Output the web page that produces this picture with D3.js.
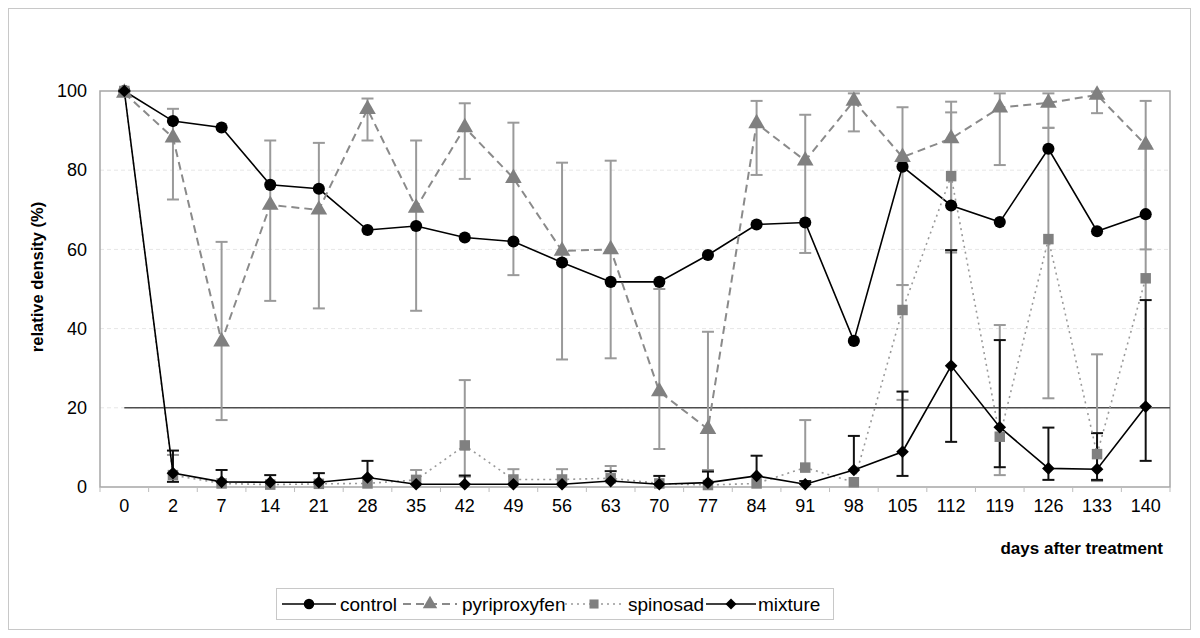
<!DOCTYPE html>
<html><head><meta charset="utf-8">
<script src="https://cdn.jsdelivr.net/npm/d3@7"></script>
<style>html,body{margin:0;padding:0;background:#fff;}svg{display:block;font-family:"Liberation Sans",Arial,sans-serif;}</style>
</head><body>
<svg id="chart" width="1200" height="638"></svg>
<script>
const days = ["0","2","7","14","21","28","35","42","49","56","63","70","77","84","91","98","105","112","119","126","133","140"];
const yTicks = [0, 20, 40, 60, 80, 100];
const threshold = 20;

const control = [100, 92.4, 90.8, 76.3, 75.3, 64.9, 65.9, 63.0, 62.0, 56.7, 51.8, 51.8, 58.6, 66.3, 66.8, 36.9, 80.9, 71.1, 66.9, 85.4, 64.6, 68.9];

const pyriproxyfen = [99.5, 88.2, 36.7, 71.2, 70.0, 95.4, 70.5, 90.8, 78.0, 59.6, 60.0, 24.1, 14.6, 91.8, 82.4, 97.5, 83.3, 88.0, 95.8, 97.0, 99.0, 86.4];
const pyriproxyfenHi = [null, 95.5, 61.9, 87.5, 86.9, 98.1, 87.5, 96.9, 92.0, 81.9, 82.4, 50.0, 39.2, 97.5, 94.0, 99.4, 95.9, 97.3, 99.4, 99.4, 99.8, 97.5];
const pyriproxyfenLo = [null, 72.6, 16.9, 47.0, 45.1, 87.5, 44.5, 77.8, 53.5, 32.2, 32.5, 9.6, 4.3, 78.8, 59.1, 89.8, 51.0, 59.2, 81.3, 90.7, 94.4, 60.0];

const spinosad = [100, 3.0, 0.9, 0.6, 0.8, 0.9, 1.8, 10.5, 1.9, 1.9, 2.2, 0.9, 0.5, 0.9, 4.9, 1.2, 44.7, 78.5, 12.7, 62.6, 8.3, 52.7];
const spinosadHi = [null, 8.1, null, null, null, null, 4.3, 27.0, 4.5, 4.5, 5.3, null, null, null, 16.9, null, 51.0, 94.6, 40.9, 90.7, 33.5, 86.0];
const spinosadLo = [null, null, null, null, null, null, null, 2.6, null, null, null, null, null, null, null, null, 22.0, 59.8, 3.0, 22.4, 1.5, 20.0];

const mixture = [100, 3.5, 1.3, 1.2, 1.2, 2.4, 0.7, 0.7, 0.7, 0.7, 1.5, 0.7, 1.1, 2.8, 0.7, 4.3, 8.9, 30.6, 15.1, 4.7, 4.5, 20.3];
const mixtureHi = [null, 9.2, 4.3, 3.0, 3.5, 6.6, null, 2.9, null, null, 4.0, 2.8, 3.9, 7.9, 1.5, 12.9, 24.1, 59.8, 37.1, 15.0, 13.6, 47.2];
const mixtureLo = [null, 1.3, null, null, null, null, null, null, null, null, null, null, null, null, null, null, 2.8, 11.4, 5.0, 1.8, 1.8, 6.6];

const svg = d3.select("#chart");
const L = 100, R = 1170, T = 91, B = 487;

// outer frame
svg.append("rect").attr("x", 8.5).attr("y", 8.5).attr("width", 1182).attr("height", 621)
  .attr("fill", "#fff").attr("stroke", "#c8c8c8").attr("stroke-width", 1);

const x = d3.scaleBand().domain(days).range([L, R]);
const y = d3.scaleLinear().domain([0, 100]).range([B, T]);
const cx = d => x(d) + x.bandwidth() / 2;

// gridlines
svg.append("g").selectAll("line").data(yTicks.filter(v => v > 0 && v < 100)).join("line")
  .attr("x1", L).attr("x2", R).attr("y1", d => y(d)).attr("y2", d => y(d))
  .attr("stroke", "#e6e6e6").attr("stroke-dasharray", "4,3").attr("stroke-width", 1);

// plot border
svg.append("rect").attr("x", L).attr("y", T).attr("width", R - L).attr("height", B - T)
  .attr("fill", "none").attr("stroke", "#a6a6a6").attr("stroke-width", 1.5);

// x axis
const xAxis = d3.axisBottom(x).tickSize(0).tickPadding(12);
const gx = svg.append("g").attr("transform", `translate(0,${B})`).call(xAxis);
gx.select(".domain").remove();
gx.selectAll("text").attr("font-size", 18).attr("fill", "#000").attr("font-family", "Liberation Sans, Arial, sans-serif");
// band boundary ticks
svg.append("g").selectAll("line").data(d3.range(days.length + 1)).join("line")
  .attr("x1", i => L + i * x.step()).attr("x2", i => L + i * x.step())
  .attr("y1", B).attr("y2", B + 5).attr("stroke", "#bdbdbd").attr("stroke-width", 1);

// y axis
const yAxis = d3.axisLeft(y).tickValues(yTicks).tickSize(0).tickPadding(13);
const gy = svg.append("g").attr("transform", `translate(${L},0)`).call(yAxis);
gy.select(".domain").remove();
gy.selectAll("text").attr("font-size", 18).attr("fill", "#000").attr("font-family", "Liberation Sans, Arial, sans-serif");

// axis titles
svg.append("text").attr("transform", `translate(43,${(T + B) / 2 - 12}) rotate(-90)`)
  .attr("text-anchor", "middle").attr("font-weight", "bold").attr("font-size", 16.5).text("relative density (%)");
svg.append("text").attr("x", 1163).attr("y", 554).attr("text-anchor", "end")
  .attr("font-weight", "bold").attr("font-size", 17).text("days after treatment");

// threshold line
svg.append("line").attr("x1", cx(days[0])).attr("x2", R).attr("y1", y(threshold)).attr("y2", y(threshold))
  .attr("stroke", "#4d4d4d").attr("stroke-width", 1.5);

// error bars
function errorBars(vals, hi, lo, color) {
  const g = svg.append("g").attr("stroke", color).attr("stroke-width", 2).attr("fill", "none");
  days.forEach((d, i) => {
    if (hi[i] == null && lo[i] == null) return;
    const top = hi[i] != null ? hi[i] : vals[i];
    const bot = lo[i] != null ? lo[i] : vals[i];
    const xc = cx(d);
    g.append("line").attr("x1", xc).attr("x2", xc).attr("y1", y(top)).attr("y2", y(bot));
    if (hi[i] != null) g.append("line").attr("x1", xc - 6).attr("x2", xc + 6).attr("y1", y(hi[i])).attr("y2", y(hi[i]));
    if (lo[i] != null) g.append("line").attr("x1", xc - 6).attr("x2", xc + 6).attr("y1", y(lo[i])).attr("y2", y(lo[i]));
  });
}
errorBars(pyriproxyfen, pyriproxyfenHi, pyriproxyfenLo, "#9a9a9a");
errorBars(spinosad, spinosadHi, spinosadLo, "#9a9a9a");
errorBars(mixture, mixtureHi, mixtureLo, "#111");

const line = d3.line().x((v, i) => cx(days[i])).y(v => y(v));

const series = [
  {name: "control", vals: control, color: "#000", lineColor: "#000", dash: null, width: 1.6, sym: d3.symbolCircle, size: 115, rot: 0},
  {name: "pyriproxyfen", vals: pyriproxyfen, color: "#808080", lineColor: "#8a8a8a", dash: "8,5", width: 2, sym: d3.symbolTriangle, size: 120, rot: 0},
  {name: "spinosad", vals: spinosad, color: "#808080", lineColor: "#999", dash: "2,4", width: 1.6, sym: d3.symbolSquare, size: 110, rot: 0},
  {name: "mixture", vals: mixture, color: "#000", lineColor: "#000", dash: null, width: 1.6, sym: d3.symbolSquare, size: 80, rot: 45}
];

series.forEach(s => {
  svg.append("path").datum(s.vals).attr("d", line).attr("fill", "none")
    .attr("stroke", s.lineColor).attr("stroke-width", s.width)
    .attr("stroke-dasharray", s.dash);
});
series.forEach(s => {
  svg.append("g").selectAll("path").data(s.vals).join("path")
    .attr("transform", (v, i) => `translate(${cx(days[i])},${y(v)}) rotate(${s.rot})`)
    .attr("d", d3.symbol().type(s.sym).size(s.size)).attr("fill", s.color);
});

// legend
const lg = svg.append("g");
lg.append("rect").attr("x", 276.5).attr("y", 588.5).attr("width", 557).attr("height", 31)
  .attr("fill", "#fff").attr("stroke", "#c8c8c8").attr("stroke-width", 1);
const legendPos = [
  {x1: 282, x2: 336, tx: 340},
  {x1: 403, x2: 457, tx: 462},
  {x1: 565, x2: 623, tx: 628},
  {x1: 706, x2: 756, tx: 758}
];
series.forEach((s, i) => {
  const p = legendPos[i], ly = 604;
  lg.append("line").attr("x1", p.x1).attr("x2", p.x2).attr("y1", ly).attr("y2", ly)
    .attr("stroke", s.lineColor).attr("stroke-width", s.width).attr("stroke-dasharray", s.dash);
  lg.append("path").attr("transform", `translate(${(p.x1 + p.x2) / 2},${ly}) rotate(${s.rot})`)
    .attr("d", d3.symbol().type(s.sym).size(s.size * 0.75)).attr("fill", s.color);
  lg.append("text").attr("x", p.tx).attr("y", ly).attr("dy", "0.35em")
    .attr("font-size", 19).text(s.name);
});
</script>
</body></html>
